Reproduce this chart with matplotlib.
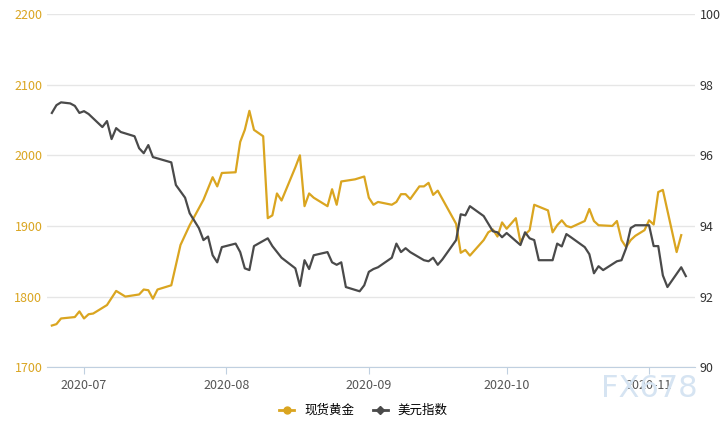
import datetime as dt
import matplotlib
matplotlib.use("Agg")
import matplotlib.pyplot as plt
import matplotlib.dates as mdates
from matplotlib.lines import Line2D

plt.rcParams['font.family'] = ['Noto Sans CJK SC', 'DejaVu Sans']

START = dt.date(2020, 6, 24)

gold_days = [0, 1, 2, 5, 6, 7, 8, 9, 12, 14, 16, 19, 20, 21, 22, 23, 26, 28, 30, 33,
             35, 36, 37, 40, 41, 42, 43, 44, 46, 47, 48, 49, 50, 53, 54, 55, 56, 57, 60, 61,
             62, 63, 66, 68, 69, 70, 71, 74, 75, 76, 77, 78, 80, 81, 82, 83, 84, 88, 89, 90,
             91, 94, 95, 96, 97, 98, 99, 101, 102, 103, 104, 105, 108, 109, 110, 111, 112, 113, 115, 116,
             117, 118, 119, 122, 123, 124, 125, 126, 127, 129, 130, 131, 132, 133, 136, 137]
gold = [1759, 1761, 1769, 1771, 1779, 1769, 1775, 1776, 1788, 1808, 1800, 1803, 1810, 1809, 1797, 1810, 1816, 1873, 1901, 1937,
        1969, 1956, 1975, 1976, 2019, 2036, 2063, 2036, 2027, 1911, 1915, 1946, 1936, 1983, 2000, 1928, 1946, 1940, 1928, 1952,
        1930, 1963, 1966, 1970, 1940, 1930, 1934, 1930, 1934, 1945, 1945, 1938, 1956, 1956, 1961, 1944, 1950, 1903, 1862, 1866,
        1858, 1880, 1891, 1895, 1885, 1905, 1896, 1911, 1877, 1888, 1894, 1930, 1922, 1891, 1901, 1908, 1900, 1898, 1904, 1907,
        1924, 1907, 1901, 1900, 1907, 1880, 1870, 1880, 1886, 1894, 1908, 1902, 1948, 1951, 1863, 1887]

usd_days = [0, 1, 2, 4, 5, 6, 7, 8, 11, 12, 13, 14, 15, 18, 19, 20, 21, 22, 26, 27,
            29, 30, 32, 33, 34, 35, 36, 37, 40, 41, 42, 43, 44, 47, 48, 50, 53, 54, 55, 56,
            57, 60, 61, 62, 63, 64, 67, 68, 69, 70, 71, 74, 75, 76, 77, 78, 81, 82, 83, 84,
            85, 88, 89, 90, 91, 94, 96, 97, 98, 99, 102, 103, 104, 105, 106, 109, 110, 111, 112, 113,
            116, 117, 118, 119, 120, 123, 124, 125, 126, 127, 130, 131, 132, 133, 134, 137, 138]
usd = [97.2, 97.42, 97.5, 97.47, 97.4, 97.2, 97.25, 97.17, 96.8, 96.97, 96.46, 96.77, 96.66, 96.54, 96.2, 96.06, 96.29, 95.95, 95.8, 95.16,
       94.8, 94.36, 93.94, 93.6, 93.7, 93.17, 92.97, 93.4, 93.5, 93.26, 92.8, 92.75, 93.43, 93.65, 93.43, 93.1, 92.8, 92.3, 93.03, 92.78,
       93.17, 93.26, 92.97, 92.9, 92.97, 92.27, 92.15, 92.32, 92.7, 92.78, 92.83, 93.1, 93.5, 93.26, 93.37, 93.26, 93.03, 93.0, 93.1, 92.9,
       93.05, 93.6, 94.33, 94.3, 94.56, 94.28, 93.85, 93.82, 93.68, 93.8, 93.46, 93.82, 93.65, 93.6, 93.03, 93.03, 93.5, 93.42, 93.77, 93.68,
       93.4, 93.2, 92.66, 92.86, 92.75, 93.0, 93.03, 93.37, 93.94, 94.02, 94.02, 93.43, 93.43, 92.6, 92.27, 92.83, 92.58]

GOLD_C = "#DAA520"
USD_C = "#4A4A4A"

gold_x = [START + dt.timedelta(days=d) for d in gold_days]
usd_x = [START + dt.timedelta(days=d) for d in usd_days]

fig = plt.figure(figsize=(7.27, 4.26), dpi=100)
ax = fig.add_axes([0.065, 0.138, 0.891, 0.829])
ax2 = ax.twinx()

ax.plot(gold_x, gold, color=GOLD_C, lw=1.6, zorder=3)
ax2.plot(usd_x, usd, color=USD_C, lw=1.6, zorder=3)

ax.set_ylim(1700, 2200)
ax.set_yticks(range(1700, 2201, 100))
ax2.set_ylim(90, 100)
ax2.set_yticks(range(90, 101, 2))
ax.set_xlim(dt.date(2020, 6, 23), dt.date(2020, 11, 11))
ax.xaxis.set_major_locator(mdates.MonthLocator())
ax.xaxis.set_major_formatter(mdates.DateFormatter("%Y-%m"))

ax.grid(axis="y", color="#E6E6E6", lw=1)
for a in (ax, ax2):
    for s in ("top", "left", "right", "bottom"):
        a.spines[s].set_visible(False)
ax.spines["bottom"].set_visible(True)
ax.spines["bottom"].set_color("#C0D0E0")
ax.tick_params(axis="x", colors="#C0D0E0", labelcolor="#555555", labelsize=9, length=5)
ax.tick_params(axis="y", length=0, labelcolor=GOLD_C, labelsize=9)
ax2.tick_params(axis="y", length=0, labelcolor="#333333", labelsize=9)

handles = [Line2D([], [], color=GOLD_C, marker="o", ms=5, lw=2),
           Line2D([], [], color=USD_C, marker="D", ms=4, lw=2)]
fig.legend(handles, ["现货黄金", "美元指数"], loc="lower center", ncol=2, frameon=False,
           fontsize=9, bbox_to_anchor=(0.5, -0.005), handlelength=1.2, columnspacing=1.5)

fig.text(0.893, 0.088, "FX678", fontsize=22, color="#D6E4F2", ha="center", va="center",
         family="DejaVu Sans", zorder=10)

fig.savefig("out.png", dpi=100)
